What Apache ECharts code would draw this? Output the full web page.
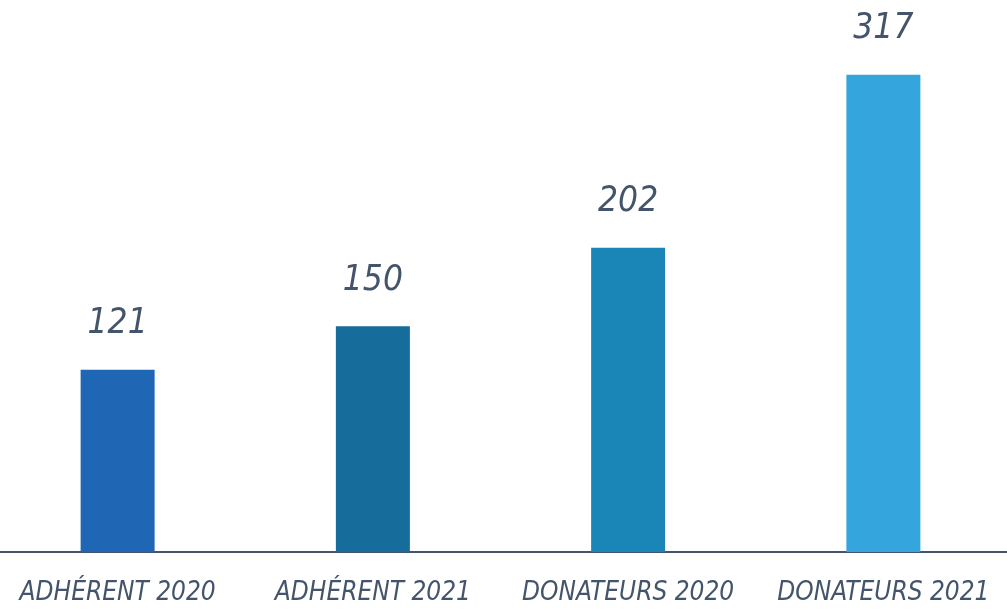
<!DOCTYPE html>
<html>
<head>
<meta charset="utf-8">
<script src="https://cdn.jsdelivr.net/npm/echarts@6/dist/echarts.min.js"></script>
<style>
  html, body { margin: 0; padding: 0; background: #fff; }
  #chart { width: 1007px; height: 609px; }
</style>
</head>
<body>
<div id="chart"></div>
<script>
const categories = ["ADHÉRENT 2020", "ADHÉRENT 2021", "DONATEURS 2020", "DONATEURS 2021"];
const values = [121, 150, 202, 317];
const barColors = ["#1f67b5", "#166c9a", "#1a86b7", "#34a6dd"];

const chart = echarts.init(document.getElementById("chart"));
const textColor = "#44546a";
const font = "'Liberation Sans Narrow', 'DejaVu Sans Condensed', sans-serif";

chart.setOption({
  animation: false,
  grid: { left: -10, right: -4, top: 25, bottom: 57, outerBoundsMode: "none", containLabel: false },
  xAxis: {
    type: "category",
    data: categories,
    axisTick: { show: false },
    axisLine: { lineStyle: { color: textColor, width: 2 } },
    axisLabel: {
      interval: 0,
      hideOverlap: false,
      color: textColor,
      fontFamily: font,
      fontStyle: "italic",
      fontSize: 26,
      margin: 28
    }
  },
  yAxis: {
    type: "value",
    min: 0,
    max: 350,
    show: false,
    splitLine: { show: false }
  },
  series: [{
    type: "bar",
    barWidth: 74,
    data: values.map((v, i) => ({ value: v, itemStyle: { color: barColors[i] } })),
    label: {
      show: true,
      position: "top",
      distance: 28,
      color: textColor,
      fontFamily: font,
      fontStyle: "italic",
      fontSize: 35
    }
  }]
});
</script>
</body>
</html>
